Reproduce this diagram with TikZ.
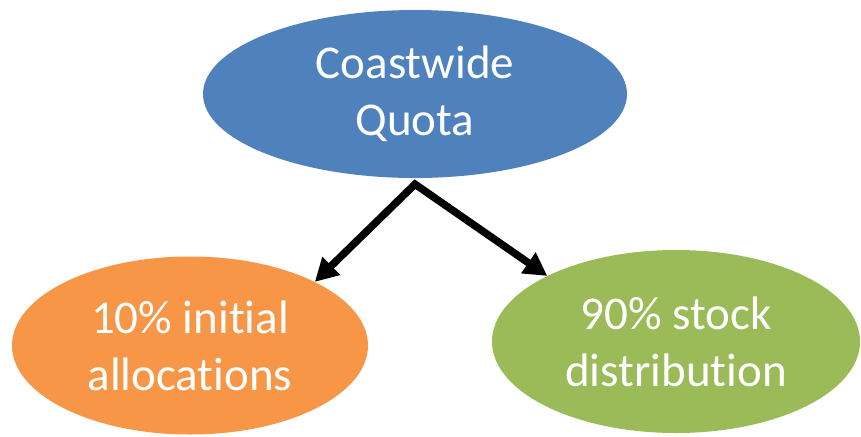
\documentclass[tikz,border=0pt]{standalone}
\usepackage{fontspec}
\setmainfont{Carlito}[Ligatures={NoCommon}]
\usetikzlibrary{shapes.geometric,arrows.meta}
\definecolor{cblue}{HTML}{4F81BD}
\definecolor{corange}{HTML}{F79646}
\definecolor{cgreen}{HTML}{9BBB59}
\tikzset{
  oval/.style={ellipse, inner sep=0pt, draw=none, text=white, align=center,
    font=\fontsize{47}{57}\selectfont},
  flow/.style={line width=7.5pt, line join=miter, draw=black,
    {Triangle[length=23pt,width=24pt]}-{Triangle[length=23pt,width=24pt]}}
}
\begin{document}
\begin{tikzpicture}[x=1pt,y=-1pt]
\useasboundingbox (0,0) rectangle (861,436);
\fill[white] (0,0) rectangle (861,436);
\node[oval, fill=cblue, minimum width=424pt, minimum height=168pt] (top) at (415,94) {Coastwide\\Quota};
\node[oval, fill=corange, minimum width=356pt, minimum height=178pt] (left) at (190,345.5) {10\% initial\\allocations};
\node[oval, fill=cgreen, minimum width=368pt, minimum height=183pt] (right) at (676,341.5) {90\% stock\\distribution};
\coordinate (apex) at ([yshift=-6pt]top.south);
\draw[flow] (left.27) -- (apex) -- (right.153);
\end{tikzpicture}
\end{document}
